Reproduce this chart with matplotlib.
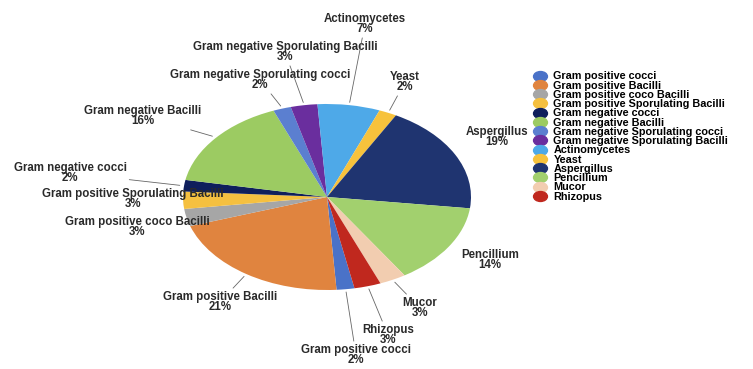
import numpy as np
import matplotlib
matplotlib.use("Agg")
import matplotlib.pyplot as plt
from matplotlib.lines import Line2D
from matplotlib.path import Path
from matplotlib.transforms import Affine2D

# --- data ---
categories = [
    "Gram positive cocci", "Gram positive Bacilli", "Gram positive coco Bacilli",
    "Gram positive Sporulating Bacilli", "Gram negative cocci", "Gram negative Bacilli",
    "Gram negative Sporulating cocci", "Gram negative Sporulating Bacilli",
    "Actinomycetes", "Yeast", "Aspergillus", "Pencillium", "Mucor", "Rhizopus",
]
percent = [2, 21, 3, 3, 2, 16, 2, 3, 7, 2, 19, 14, 3, 3]
colors = [
    "#4a72c8", "#e0843f", "#a6a6a6", "#f5c040", "#0f1f5c", "#9ccb62", "#5b7fd0",
    "#6a2e9e", "#4ea9e8", "#f7c23c", "#1f3470", "#a2d06e", "#f2cdb0", "#c0281e",
]

# label centres in figure pixels (x from left, y from top)
label_pos = [
    (356, 355), (220, 302), (137, 227), (133, 199), (70, 173), (143, 116),
    (260, 80), (285, 52), (365, 24), (405, 82), (497, 137), (490, 260),
    (420, 308), (388, 335),
]
show_line = [True, True, False, False, True, True, True, True, True, True,
             False, False, True, True]

W, H = 753, 369
cx, cy = 327, 197      # pie centre, pixels
rx, ry = 144, 93       # pie radii, pixels

plt.rcParams['font.family'] = ['Liberation Sans', 'DejaVu Sans']
fig = plt.figure(figsize=(W / 100, H / 100), dpi=100)
ax = fig.add_axes([0, 0, 1, 1])

wedges, _ = ax.pie(percent, colors=colors, startangle=-79, counterclock=False,
                   radius=1, wedgeprops=dict(linewidth=0))
ax.set_aspect('auto')
ax.set_xlim(-cx / rx, (W - cx) / rx)
ax.set_ylim(-(H - cy) / ry, cy / ry)
ax.axis('off')

for w, name, p, (lx, ly), sl in zip(wedges, categories, percent, label_pos, show_line):
    mid = np.deg2rad((w.theta1 + w.theta2) / 2)
    xy = (1.03 * np.cos(mid), 1.03 * np.sin(mid))
    ax.annotate(f"{name}\n{p}%", xy=xy, xytext=(lx / W, 1 - ly / H),
                textcoords='figure fraction', ha='center', va='center',
                fontsize=8.3, fontweight='bold', color='#2a2a2a', linespacing=0.8,
                arrowprops=dict(arrowstyle='-', color='#666666', lw=0.6,
                                shrinkA=0, shrinkB=0) if sl else None)

# slightly wide oval markers like the reference legend
oval = Affine2D().scale(1.4, 1.0).transform_path(Path.unit_circle())
handles = [Line2D([], [], marker=oval, linestyle='', markersize=10,
                  markerfacecolor=c, markeredgecolor=c) for c in colors]
fig.legend(handles, categories, loc='upper left', bbox_to_anchor=(528 / W, 1 - 66 / H),
           frameon=False, prop=dict(size=7.8, weight='bold'), labelspacing=-0.07,
           handletextpad=0.55, handlelength=1.3, borderpad=0)

fig.savefig("out.png", dpi=100)
